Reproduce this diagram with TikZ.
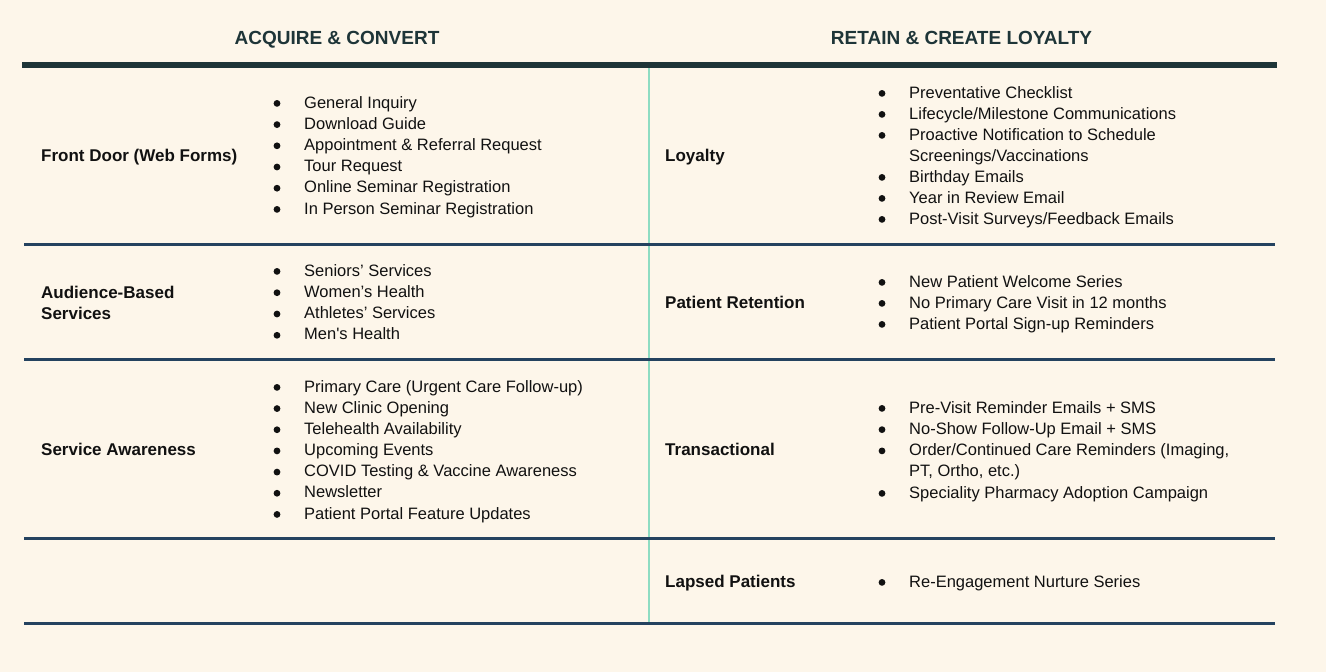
\documentclass[tikz,border=0pt]{standalone}
\usepackage{fontspec}
\setmainfont{Liberation Sans}
\usetikzlibrary{positioning}

\definecolor{cream}{HTML}{FDF6EA}
\definecolor{headteal}{HTML}{1E3538}
\definecolor{rulenavy}{HTML}{24425F}
\definecolor{mint}{HTML}{8EDCC2}
\definecolor{inkblack}{HTML}{111111}

\tikzset{
	head/.style={font=\fontsize{19}{23}\selectfont\bfseries, text=headteal, inner sep=0pt, anchor=base},
	rowname/.style={font=\fontsize{17}{21.2}\selectfont\bfseries, text=inkblack, inner sep=0pt, anchor=base west, align=left},
	entry/.style={font=\fontsize{16.5}{21.2}\selectfont, text=inkblack, inner sep=0pt, anchor=base west},
	dot/.style={fill=inkblack, circle, inner sep=0pt, minimum size=6.8pt},
	divider/.style={draw=rulenavy, line width=3pt},
}

\begin{document}
\begin{tikzpicture}[x=1pt,y=-1pt]
\fill[cream] (0,0) rectangle (1326,672);
\useasboundingbox (0,0) rectangle (1326,672);

% headings
\node[head] (acq) at (337,44) {ACQUIRE \& CONVERT};
\node[head] (ret) at (961.5,44) {RETAIN \& CREATE LOYALTY};

% rules
\coordinate (topL) at (22,65);
\coordinate (topR) at (1277,65);
\draw[draw=headteal, line width=6pt] (topL) -- (topR);

\coordinate (midT) at (649,68);
\coordinate (midB) at (649,623);
\draw[draw=mint, line width=1.5pt] (midT) -- (midB);

\foreach \y [count=\k] in {244,359,538,623}{
	\coordinate (divL\k) at (24,\y);
	\coordinate (divR\k) at (1275,\y);
	\draw[divider] (divL\k) -- (divR\k);
}

% left column
\node[rowname] (frontdoor) at (41,161) {Front Door (Web Forms)};
\node[rowname, anchor=west] (audience) at (41,303) {Audience-Based\\Services};
\node[rowname] (awareness) at (41,455) {Service Awareness};

\foreach \t [count=\i] in {General Inquiry, Download Guide, Appointment \& Referral Request, Tour Request, Online Seminar Registration, In Person Seminar Registration}
	\node[entry] (fd\i) at (304,108+21.2*\i-21.2) {\t};

\foreach \t [count=\i] in {Seniors’ Services, Women’s Health, Athletes’ Services, Men\textquotesingle s Health}
	\node[entry] (au\i) at (304,276+21.3*\i-21.3) {\t};

\foreach \t [count=\i] in {Primary Care (Urgent Care Follow-up), New Clinic Opening, Telehealth Availability, Upcoming Events, COVID Testing \& Vaccine Awareness, Newsletter, Patient Portal Feature Updates}
	\node[entry] (sa\i) at (304,392+21.17*\i-21.17) {\t};

\foreach \i in {1,...,6}
	\node[dot] (fdb\i) at ([xshift=-27pt,yshift=4.6pt]fd\i.base west) {};
\foreach \i in {1,...,4}
	\node[dot] (aub\i) at ([xshift=-27pt,yshift=4.6pt]au\i.base west) {};
\foreach \i in {1,...,7}
	\node[dot] (sab\i) at ([xshift=-27pt,yshift=4.6pt]sa\i.base west) {};

% right column
\node[rowname] (loyalty) at (665,161) {Loyalty};
\node[rowname] (retention) at (665,308) {Patient Retention};
\node[rowname] (transact) at (665,455) {Transactional};
\node[rowname] (lapsed) at (665,587) {Lapsed Patients};

\foreach \t [count=\i] in {Preventative Checklist, Lifecycle/Milestone Communications, Proactive Notification to Schedule, Screenings/Vaccinations, Birthday Emails, Year in Review Email, Post-Visit Surveys/Feedback Emails}
	\node[entry] (ly\i) at (909,98+21*\i-21) {\t};

\foreach \t [count=\i] in {New Patient Welcome Series, No Primary Care Visit in 12 months, Patient Portal Sign-up Reminders}
	\node[entry] (pr\i) at (909,287+21*\i-21) {\t};

\foreach \t [count=\i] in {Pre-Visit Reminder Emails + SMS, No-Show Follow-Up Email + SMS, {Order/Continued Care Reminders (Imaging,}, {PT, Ortho, etc.)}, Speciality Pharmacy Adoption Campaign}
	\node[entry] (tr\i) at (909,413+21.25*\i-21.25) {\t};

\node[entry] (lp1) at (909,587) {Re-Engagement Nurture Series};

\foreach \i in {1,2,3,5,6,7}
	\node[dot] (lyb\i) at ([xshift=-27pt,yshift=4.6pt]ly\i.base west) {};
\foreach \i in {1,2,3}
	\node[dot] (prb\i) at ([xshift=-27pt,yshift=4.6pt]pr\i.base west) {};
\foreach \i in {1,2,3,5}
	\node[dot] (trb\i) at ([xshift=-27pt,yshift=4.6pt]tr\i.base west) {};
\node[dot] (lpb1) at ([xshift=-27pt,yshift=4.6pt]lp1.base west) {};

\end{tikzpicture}
\end{document}
